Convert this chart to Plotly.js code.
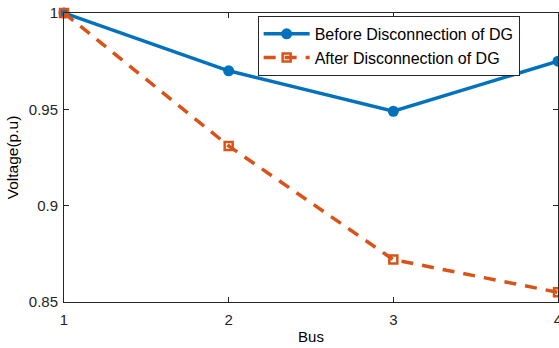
<!DOCTYPE html>
<html>
<head>
<meta charset="utf-8">
<script src="https://cdn.plot.ly/plotly-3.0.1.min.js"></script>
<style>
html,body{margin:0;padding:0;background:#fff;}
#chart{width:559px;height:348px;}
</style>
</head>
<body>
<div id="chart"></div>
<script>
const buses = [1, 2, 3, 4];
const beforeDG = [1.0, 0.970, 0.949, 0.975];
const afterDG = [1.0, 0.931, 0.872, 0.855];
const yTickVals = [0.85, 0.9, 0.95, 1];
const yTickText = ['0.85', '0.9', '0.95', '1'];
const xTickVals = [1, 2, 3, 4];
const xTickText = ['1', '2', '3', '4'];

const fam = '"Liberation Sans", Arial, sans-serif';

const traces = [
  {
    x: buses, y: beforeDG, name: 'Before Disconnection of DG',
    mode: 'lines+markers', type: 'scatter',
    line: {color: '#0072BD', width: 3.5},
    marker: {color: '#0072BD', size: 11, symbol: 'circle'},
    cliponaxis: false
  },
  {
    x: buses, y: afterDG, name: 'After Disconnection of DG',
    mode: 'lines+markers', type: 'scatter',
    line: {color: '#D95319', width: 3.5, dash: '12px,9px'},
    marker: {color: '#D95319', size: 8, symbol: 'square-open', line: {color: '#D95319', width: 2.5}},
    cliponaxis: false
  }
];

const layout = {
  width: 559, height: 348,
  margin: {l: 64, r: 1, t: 13, b: 46},
  paper_bgcolor: '#fff', plot_bgcolor: '#fff',
  font: {family: fam, size: 15, color: '#262626'},
  showlegend: true,
  legend: {
    x: 0.392, y: 0.99, xanchor: 'left', yanchor: 'top',
    bgcolor: '#fff', bordercolor: '#262626', borderwidth: 1,
    font: {family: fam, size: 16, color: '#000'},
    itemwidth: 46, tracegroupgap: 0
  },
  xaxis: {
    range: [1, 4], tickmode: 'array', tickvals: xTickVals, ticktext: xTickText,
    ticks: 'inside', ticklen: 5, tickwidth: 1, tickcolor: '#262626',
    showline: true, linecolor: '#262626', linewidth: 1, mirror: 'ticks',
    showgrid: false, zeroline: false, ticklabeloverflow: 'allow',
    ticklabelstandoff: 4,
    title: {text: 'Bus', font: {family: fam, size: 15, color: '#000'}, standoff: 4},
    tickfont: {family: fam, size: 15, color: '#262626'}
  },
  yaxis: {
    range: [0.85, 1], tickmode: 'array', tickvals: yTickVals, ticktext: yTickText,
    ticks: 'inside', ticklen: 5, tickwidth: 1, tickcolor: '#262626',
    showline: true, linecolor: '#262626', linewidth: 1, mirror: 'ticks',
    showgrid: false, zeroline: false, ticklabeloverflow: 'allow',
    ticklabelstandoff: 2,
    title: {text: 'Voltage(p.u)', font: {family: fam, size: 15.5, color: '#000'}, standoff: 6},
    tickfont: {family: fam, size: 15, color: '#262626'}
  }
};

Plotly.newPlot('chart', traces, layout, {displayModeBar: false, staticPlot: true});
</script>
</body>
</html>
